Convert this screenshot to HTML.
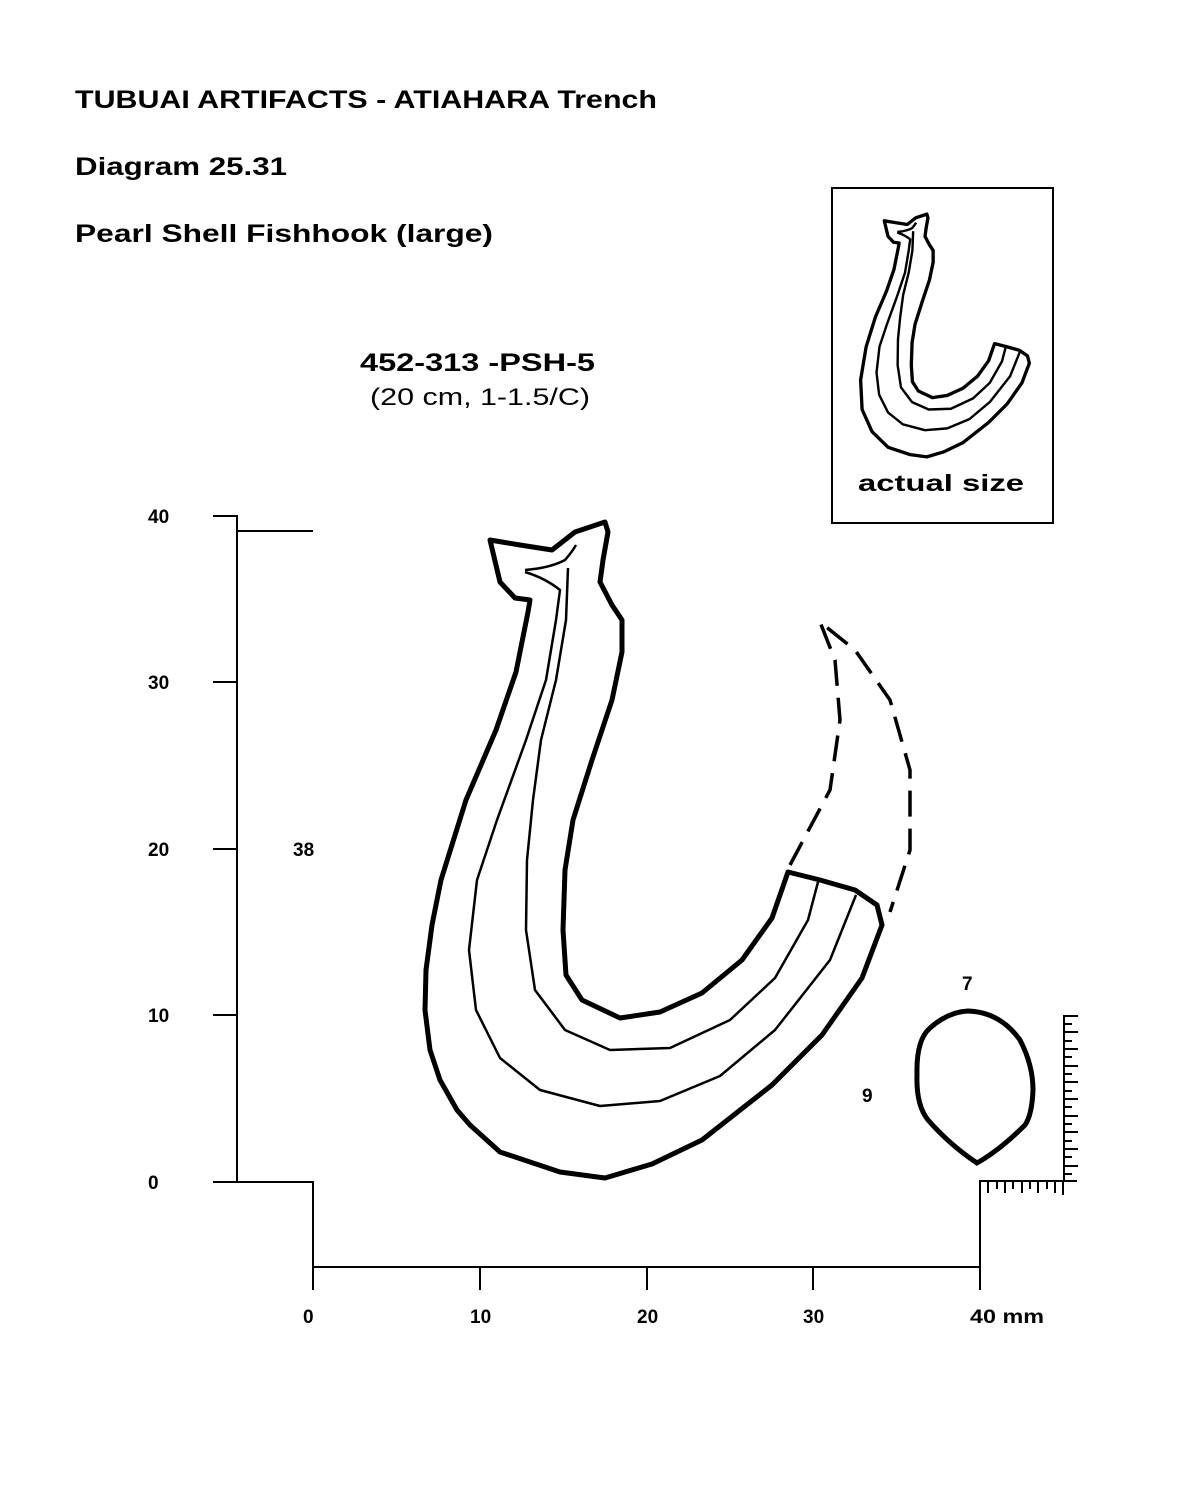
<!DOCTYPE html>
<html><head><meta charset="utf-8"><style>
html,body{margin:0;padding:0;background:#fff;}
svg{display:block;}
text{font-family:"Liberation Sans",sans-serif;fill:#000;}
.b{font-weight:bold;}
</style></head><body>
<svg width="1200" height="1500" viewBox="0 0 1200 1500" xmlns="http://www.w3.org/2000/svg">

<text class="b" x="75" y="108" font-size="25" textLength="582" lengthAdjust="spacingAndGlyphs">TUBUAI ARTIFACTS - ATIAHARA Trench</text>
<text class="b" x="75" y="175" font-size="25" textLength="212" lengthAdjust="spacingAndGlyphs">Diagram 25.31</text>
<text class="b" x="75" y="242" font-size="25" textLength="418" lengthAdjust="spacingAndGlyphs">Pearl Shell Fishhook (large)</text>

<text class="b" x="360" y="371" font-size="25" textLength="235" lengthAdjust="spacingAndGlyphs">452-313 -PSH-5</text>
<text x="370" y="405" font-size="24" textLength="220" lengthAdjust="spacingAndGlyphs">(20 cm, 1-1.5/C)</text>

<!-- inset -->
<rect x="832" y="188" width="221" height="335" fill="none" stroke="#000" stroke-width="2"/>
<g transform="translate(703,21) scale(0.37)" fill="none" stroke="#000" stroke-linejoin="round">
<path stroke-width="9" d="M490,540 L520,545 L552,550 L575,532 L605,522 L608,532 L603,560 L600,582 L612,605 L622,620 L622,652 L612,700 L592,760 L573,820 L565,870 L563,930 L566,975 L582,1000 L620,1018 L660,1012 L702,993 L742,960 L772,918 L788,872 L820,880 L855,890 L877,905 L882,925 L862,978 L822,1035 L772,1085 L702,1140 L652,1164 L605,1178 L560,1172 L500,1152 L457,1110 L430,1050 L426,970 L441,880 L466,800 L496,730 L516,672 L528,612 L530,600 L515,598 L500,582 Z"/>
<path stroke-width="6.5" d="M525,572 Q545,578 560,590 L556,620 L546,680 L526,740 L497,820 L477,880 L469,950 L476,1010 L500,1058 L540,1090 L600,1106 L660,1101 L720,1076 L775,1030 L830,960 L856,895"/>
<path stroke-width="6.5" d="M525,570 Q550,568 565,560 Q572,552 576,545 M568,568 L566,620 L556,680 L541,740 L533,800 L527,860 L526,930 L535,990 L565,1030 L610,1050 L670,1048 L730,1020 L775,978 L808,920 L818,882"/>
</g>
<text class="b" x="858" y="491" font-size="23" textLength="166" lengthAdjust="spacingAndGlyphs">actual size</text>

<!-- main hook -->
<g fill="none" stroke="#000" stroke-linejoin="round">
<path stroke-width="5" d="M490,540 L520,545 L552,550 L575,532 L605,522 L608,532 L603,560 L600,582 L612,605 L622,620 L622,652 L612,700 L592,760 L573,820 L565,870 L563,930 L566,975 L582,1000 L620,1018 L660,1012 L702,993 L742,960 L772,918 L788,872 L820,880 L855,890 L877,905 L882,925 L862,978 L822,1035 L772,1085 L702,1140 L652,1164 L605,1178 L560,1172 L500,1152 L470,1125 L457,1110 L440,1080 L430,1050 L425,1010 L426,970 L432,925 L441,880 L466,800 L496,730 L516,672 L528,612 L530,600 L515,598 L500,582 Z"/>
<path stroke-width="2.5" d="M525,572 Q545,578 560,590 L556,620 L546,680 L526,740 L497,820 L477,880 L469,950 L476,1010 L500,1058 L540,1090 L600,1106 L660,1101 L720,1076 L775,1030 L830,960 L856,895"/>
<path stroke-width="2.5" d="M525,570 Q550,568 565,560 Q572,552 576,545 M568,568 L566,620 L556,680 L541,740 L533,800 L527,860 L526,930 L535,990 L565,1030 L610,1050 L670,1048 L730,1020 L775,978 L808,920 L818,882"/>
</g>
<path d="M790,865 L830,790 L840,720 L835,660 L820,622 L855,650 L890,700 L910,770 L910,850 L890,912" fill="none" stroke="#000" stroke-width="3.5" stroke-dasharray="26,12"/>

<!-- axes -->
<g stroke="#000" stroke-width="2" fill="none">
<path d="M213,516 H237 V1182 M237,531 H313 M213,682 H237 M213,849 H237 M213,1015 H237 M213,1182 H313 V1267 H980 M313,1267 V1290 M480,1267 V1290 M647,1267 V1290 M813,1267 V1290 M980,1180 V1290"/>
<path d="M980,1181 H1077 M1064,1015 V1181"/>
<path d="M1064,1016 H1078 M1064,1032 H1078 M1064,1049 H1078 M1064,1066 H1078 M1064,1082 H1078 M1064,1099 H1078 M1064,1116 H1078 M1064,1132 H1078 M1064,1149 H1078 M1064,1166 H1078
M1064,1024 H1072 M1064,1041 H1072 M1064,1057 H1072 M1064,1074 H1072 M1064,1091 H1072 M1064,1107 H1072 M1064,1124 H1072 M1064,1141 H1072 M1064,1157 H1072 M1064,1174 H1072"/>
<path d="M988,1181 V1193 M997,1181 V1189 M1005,1181 V1193 M1013,1181 V1189 M1022,1181 V1193 M1030,1181 V1189 M1038,1181 V1193 M1047,1181 V1189 M1055,1181 V1193 M1063,1181 V1195"/>
</g>

<!-- cross-section -->
<path d="M968,1011 Q1000,1012 1020,1040 Q1033,1065 1033,1090 Q1032,1115 1025,1125 Q1000,1150 977,1163 Q950,1145 928,1120 Q916,1105 917,1075 Q916,1040 930,1028 Q948,1012 968,1011 Z" fill="none" stroke="#000" stroke-width="5"/>

<g class="b" font-size="19" font-weight="bold">
<text x="148" y="523">40</text>
<text x="148" y="689">30</text>
<text x="148" y="856">20</text>
<text x="148" y="1022">10</text>
<text x="148" y="1189">0</text>
<text x="293" y="856">38</text>
<text x="962" y="990">7</text>
<text x="862" y="1102">9</text>
<text x="303" y="1323">0</text>
<text x="470" y="1323">10</text>
<text x="637" y="1323">20</text>
<text x="803" y="1323">30</text>
<text x="970" y="1323" textLength="74" lengthAdjust="spacingAndGlyphs">40 mm</text>
</g>
</svg>
</body></html>
